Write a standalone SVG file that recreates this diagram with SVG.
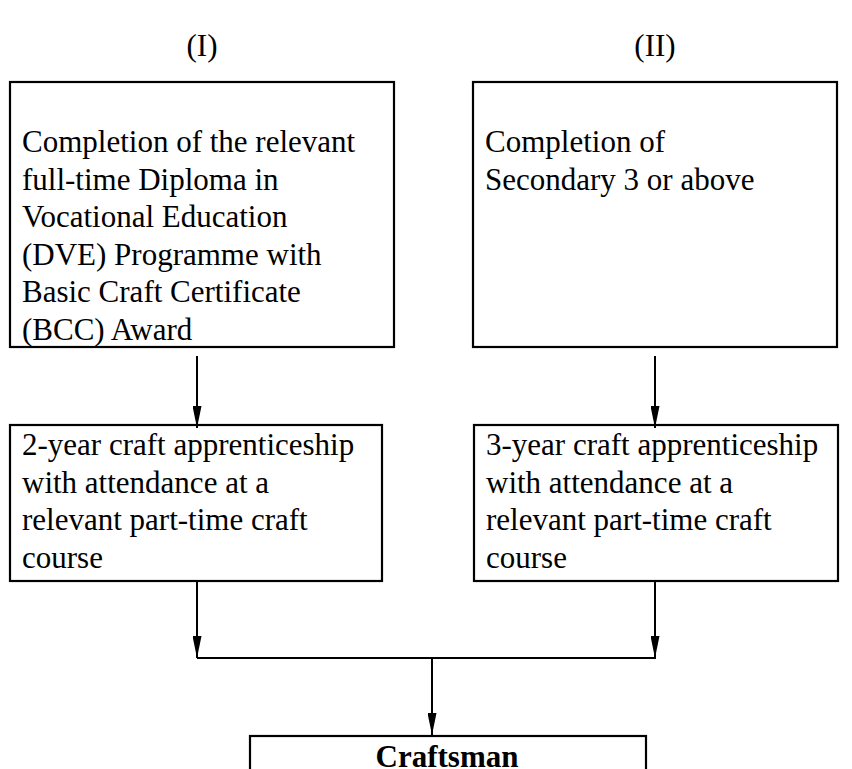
<svg xmlns="http://www.w3.org/2000/svg" width="852" height="769" viewBox="0 0 852 769">
<style>
.box{fill:#fff;stroke:#000;stroke-width:2.2}
.t{font-family:"Liberation Serif","Times New Roman",serif;font-size:31px;fill:#000}
.h{font-family:"Liberation Serif","Times New Roman",serif;font-size:31px;fill:#000;text-anchor:middle}
.b{font-family:"Liberation Serif","Times New Roman",serif;font-size:31px;font-weight:bold;fill:#000;text-anchor:middle}
.c{stroke:#000;stroke-width:2;fill:none}
</style>
<defs>
<marker id="arr" markerUnits="userSpaceOnUse" markerWidth="22" markerHeight="9" refX="22" refY="4.5" orient="auto">
<path d="M0,0 L22,4.5 L0,9 z" fill="#000"/>
</marker>
</defs>
<rect width="852" height="769" fill="#fff"/>
<g id="headers">
<text class="h" x="202" y="56">(I)</text>
<text class="h" x="655" y="56">(II)</text>
</g>
<g id="node-dve">
<rect class="box" x="10" y="82" width="384" height="265"/>
<text class="t" x="22" y="152">Completion of the relevant</text>
<text class="t" x="22" y="189.5">full-time Diploma in</text>
<text class="t" x="22" y="227">Vocational Education</text>
<text class="t" x="22" y="264.5">(DVE) Programme with</text>
<text class="t" x="22" y="302">Basic Craft Certificate</text>
<text class="t" x="22" y="339.5">(BCC) Award</text>
</g>
<g id="node-sec3">
<rect class="box" x="473" y="82" width="364" height="265"/>
<text class="t" x="485" y="152">Completion of</text>
<text class="t" x="485" y="189.5">Secondary 3 or above</text>
</g>
<g id="node-2year">
<rect class="box" x="10" y="425" width="372" height="156"/>
<text class="t" x="22" y="455">2-year craft apprenticeship</text>
<text class="t" x="22" y="492.5">with attendance at a</text>
<text class="t" x="22" y="530">relevant part-time craft</text>
<text class="t" x="22" y="567.5">course</text>
</g>
<g id="node-3year">
<rect class="box" x="474" y="425" width="364" height="156"/>
<text class="t" x="486" y="455">3-year craft apprenticeship</text>
<text class="t" x="486" y="492.5">with attendance at a</text>
<text class="t" x="486" y="530">relevant part-time craft</text>
<text class="t" x="486" y="567.5">course</text>
</g>
<g id="node-craftsman">
<rect class="box" x="250" y="736" width="396" height="60"/>
<text class="b" x="447" y="767">Craftsman</text>
</g>
<g id="connectors">
<line class="c" x1="197" y1="356" x2="197" y2="428" marker-end="url(#arr)"/>
<line class="c" x1="655" y1="356" x2="655" y2="428" marker-end="url(#arr)"/>
<line class="c" x1="197" y1="582" x2="197" y2="658" marker-end="url(#arr)"/>
<line class="c" x1="655" y1="582" x2="655" y2="658" marker-end="url(#arr)"/>
<line class="c" x1="197" y1="658" x2="656" y2="658"/>
<line class="c" x1="432" y1="658" x2="432" y2="735" marker-end="url(#arr)"/>
</g>
</svg>
